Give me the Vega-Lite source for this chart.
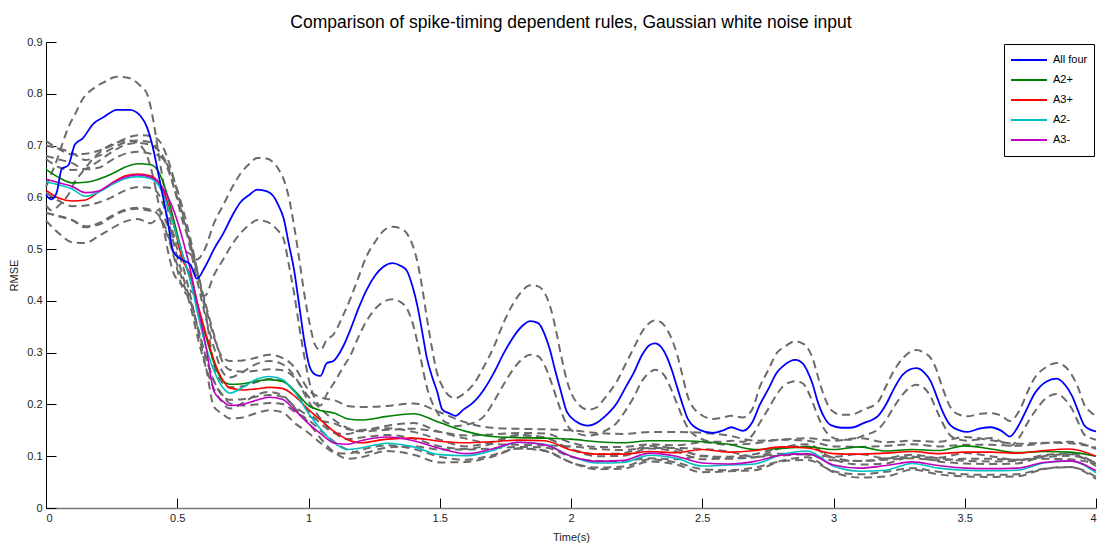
{
"$schema": "https://vega.github.io/schema/vega-lite/v6.json",
"width": 1050, "height": 466,
"autosize": {"type": "none"},
"padding": {"left": 46, "top": 42, "right": 4, "bottom": 37},
"background": "white",
"title": {"text": "Comparison of spike-timing dependent rules, Gaussian white noise input", "fontSize": 17.5, "font": "Liberation Sans", "fontWeight": "normal", "color": "black", "offset": 5},
"config": {
 "view": {"stroke": null},
 "axis": {"labelFont": "Liberation Sans", "titleFont": "Liberation Sans", "labelFontSize": 11, "titleFontSize": 11, "titleFontWeight": "normal", "labelColor": "#222", "titleColor": "#222", "grid": false, "tickColor": "black", "tickSize": -10, "domainColor": "black"}
},
"datasets": {
"blue": [
{"t":0,"a":0.605,"au":0.62,"al":0.585},
{"t":0.02,"a":0.596,"au":0.645,"al":0.575},
{"t":0.04,"a":0.608,"au":0.67,"al":0.58},
{"t":0.06,"a":0.655,"au":0.70,"al":0.59},
{"t":0.085,"a":0.662,"au":0.735,"al":0.605},
{"t":0.11,"a":0.702,"au":0.76,"al":0.63},
{"t":0.14,"a":0.714,"au":0.79,"al":0.65},
{"t":0.18,"a":0.742,"au":0.81,"al":0.675},
{"t":0.22,"a":0.755,"au":0.822,"al":0.693},
{"t":0.27,"a":0.769,"au":0.833,"al":0.706},
{"t":0.32,"a":0.769,"au":0.83,"al":0.71},
{"t":0.36,"a":0.757,"au":0.815,"al":0.70},
{"t":0.385,"a":0.735,"au":0.80,"al":0.68},
{"t":0.41,"a":0.69,"au":0.745,"al":0.635},
{"t":0.43,"a":0.64,"au":0.68,"al":0.585},
{"t":0.45,"a":0.59,"au":0.62,"al":0.535},
{"t":0.465,"a":0.55,"au":0.575,"al":0.495},
{"t":0.485,"a":0.495,"au":0.53,"al":0.455},
{"t":0.51,"a":0.482,"au":0.505,"al":0.435},
{"t":0.55,"a":0.47,"au":0.49,"al":0.42},
{"t":0.575,"a":0.443,"au":0.48,"al":0.41},
{"t":0.605,"a":0.465,"au":0.50,"al":0.41},
{"t":0.64,"a":0.50,"au":0.55,"al":0.45},
{"t":0.675,"a":0.53,"au":0.585,"al":0.48},
{"t":0.71,"a":0.565,"au":0.62,"al":0.51},
{"t":0.74,"a":0.59,"au":0.645,"al":0.53},
{"t":0.775,"a":0.605,"au":0.665,"al":0.547},
{"t":0.805,"a":0.615,"au":0.676,"al":0.556},
{"t":0.84,"a":0.612,"au":0.675,"al":0.553},
{"t":0.865,"a":0.603,"au":0.668,"al":0.545},
{"t":0.885,"a":0.585,"au":0.655,"al":0.535},
{"t":0.905,"a":0.56,"au":0.635,"al":0.52},
{"t":0.925,"a":0.51,"au":0.60,"al":0.47},
{"t":0.945,"a":0.46,"au":0.545,"al":0.415},
{"t":0.965,"a":0.39,"au":0.48,"al":0.35},
{"t":0.985,"a":0.32,"au":0.41,"al":0.29},
{"t":1.005,"a":0.272,"au":0.355,"al":0.24},
{"t":1.025,"a":0.258,"au":0.315,"al":0.21},
{"t":1.045,"a":0.255,"au":0.305,"al":0.198},
{"t":1.07,"a":0.28,"au":0.325,"al":0.22},
{"t":1.095,"a":0.284,"au":0.335,"al":0.24},
{"t":1.13,"a":0.31,"au":0.37,"al":0.27},
{"t":1.16,"a":0.345,"au":0.405,"al":0.295},
{"t":1.19,"a":0.385,"au":0.445,"al":0.33},
{"t":1.22,"a":0.42,"au":0.485,"al":0.36},
{"t":1.255,"a":0.45,"au":0.515,"al":0.385},
{"t":1.285,"a":0.466,"au":0.535,"al":0.398},
{"t":1.32,"a":0.473,"au":0.543,"al":0.403},
{"t":1.35,"a":0.468,"au":0.54,"al":0.398},
{"t":1.375,"a":0.458,"au":0.53,"al":0.385},
{"t":1.395,"a":0.43,"au":0.51,"al":0.36},
{"t":1.415,"a":0.39,"au":0.475,"al":0.32},
{"t":1.435,"a":0.335,"au":0.42,"al":0.27},
{"t":1.45,"a":0.292,"au":0.37,"al":0.235},
{"t":1.47,"a":0.255,"au":0.31,"al":0.205},
{"t":1.49,"a":0.225,"au":0.26,"al":0.185},
{"t":1.51,"a":0.19,"au":0.235,"al":0.17},
{"t":1.54,"a":0.182,"au":0.215,"al":0.162},
{"t":1.56,"a":0.178,"au":0.212,"al":0.158},
{"t":1.59,"a":0.19,"au":0.22,"al":0.16},
{"t":1.63,"a":0.205,"au":0.24,"al":0.165},
{"t":1.67,"a":0.23,"au":0.275,"al":0.178},
{"t":1.705,"a":0.26,"au":0.31,"al":0.205},
{"t":1.745,"a":0.30,"au":0.36,"al":0.24},
{"t":1.78,"a":0.33,"au":0.395,"al":0.268},
{"t":1.815,"a":0.352,"au":0.42,"al":0.288},
{"t":1.845,"a":0.361,"au":0.43,"al":0.296},
{"t":1.875,"a":0.357,"au":0.428,"al":0.293},
{"t":1.90,"a":0.335,"au":0.415,"al":0.275},
{"t":1.92,"a":0.305,"au":0.39,"al":0.25},
{"t":1.94,"a":0.265,"au":0.35,"al":0.22},
{"t":1.96,"a":0.228,"au":0.30,"al":0.19},
{"t":1.985,"a":0.185,"au":0.245,"al":0.16},
{"t":2.02,"a":0.167,"au":0.205,"al":0.145},
{"t":2.065,"a":0.159,"au":0.19,"al":0.14},
{"t":2.10,"a":0.165,"au":0.195,"al":0.142},
{"t":2.125,"a":0.175,"au":0.21,"al":0.148},
{"t":2.175,"a":0.203,"au":0.245,"al":0.165},
{"t":2.21,"a":0.235,"au":0.28,"al":0.19},
{"t":2.24,"a":0.262,"au":0.31,"al":0.215},
{"t":2.27,"a":0.295,"au":0.34,"al":0.245},
{"t":2.30,"a":0.315,"au":0.358,"al":0.262},
{"t":2.32,"a":0.318,"au":0.362,"al":0.267},
{"t":2.345,"a":0.31,"au":0.358,"al":0.262},
{"t":2.365,"a":0.292,"au":0.345,"al":0.248},
{"t":2.385,"a":0.265,"au":0.325,"al":0.225},
{"t":2.405,"a":0.232,"au":0.295,"al":0.2},
{"t":2.425,"a":0.20,"au":0.255,"al":0.175},
{"t":2.445,"a":0.172,"au":0.215,"al":0.155},
{"t":2.49,"a":0.151,"au":0.182,"al":0.135},
{"t":2.54,"a":0.145,"au":0.172,"al":0.128},
{"t":2.58,"a":0.15,"au":0.175,"al":0.128},
{"t":2.61,"a":0.156,"au":0.178,"al":0.13},
{"t":2.655,"a":0.149,"au":0.175,"al":0.128},
{"t":2.69,"a":0.165,"au":0.19,"al":0.14},
{"t":2.72,"a":0.20,"au":0.235,"al":0.165},
{"t":2.75,"a":0.228,"au":0.265,"al":0.19},
{"t":2.785,"a":0.262,"au":0.30,"al":0.22},
{"t":2.81,"a":0.275,"au":0.31,"al":0.236},
{"t":2.855,"a":0.286,"au":0.322,"al":0.245},
{"t":2.885,"a":0.278,"au":0.317,"al":0.24},
{"t":2.90,"a":0.265,"au":0.31,"al":0.228},
{"t":2.92,"a":0.24,"au":0.29,"al":0.205},
{"t":2.94,"a":0.205,"au":0.255,"al":0.178},
{"t":2.965,"a":0.175,"au":0.215,"al":0.152},
{"t":2.99,"a":0.16,"au":0.19,"al":0.138},
{"t":3.03,"a":0.155,"au":0.18,"al":0.132},
{"t":3.065,"a":0.155,"au":0.18,"al":0.132},
{"t":3.115,"a":0.164,"au":0.19,"al":0.14},
{"t":3.17,"a":0.178,"au":0.205,"al":0.152},
{"t":3.20,"a":0.20,"au":0.235,"al":0.17},
{"t":3.23,"a":0.23,"au":0.265,"al":0.195},
{"t":3.265,"a":0.258,"au":0.29,"al":0.22},
{"t":3.315,"a":0.27,"au":0.305,"al":0.238},
{"t":3.345,"a":0.262,"au":0.30,"al":0.232},
{"t":3.37,"a":0.245,"au":0.29,"al":0.215},
{"t":3.39,"a":0.22,"au":0.27,"al":0.192},
{"t":3.41,"a":0.193,"au":0.24,"al":0.17},
{"t":3.445,"a":0.16,"au":0.195,"al":0.14},
{"t":3.48,"a":0.15,"au":0.18,"al":0.132},
{"t":3.51,"a":0.147,"au":0.177,"al":0.13},
{"t":3.56,"a":0.154,"au":0.182,"al":0.133},
{"t":3.60,"a":0.156,"au":0.183,"al":0.135},
{"t":3.64,"a":0.149,"au":0.178,"al":0.128},
{"t":3.672,"a":0.138,"au":0.168,"al":0.12},
{"t":3.71,"a":0.164,"au":0.19,"al":0.138},
{"t":3.74,"a":0.195,"au":0.225,"al":0.165},
{"t":3.765,"a":0.22,"au":0.25,"al":0.185},
{"t":3.81,"a":0.244,"au":0.272,"al":0.212},
{"t":3.85,"a":0.25,"au":0.28,"al":0.22},
{"t":3.885,"a":0.236,"au":0.272,"al":0.208},
{"t":3.91,"a":0.215,"au":0.255,"al":0.19},
{"t":3.93,"a":0.19,"au":0.235,"al":0.168},
{"t":3.955,"a":0.16,"au":0.20,"al":0.142},
{"t":3.98,"a":0.151,"au":0.185,"al":0.135},
{"t":4.0,"a":0.148,"au":0.178,"al":0.132}
],
"oth": [
{"t":0,"g":0.654,"gu":0.709,"gl":0.609,"r":0.614,"ru":0.674,"rl":0.555,"c":0.63,"cu":0.70,"cl":0.57,"m":0.635,"mu":0.68,"ml":0.57},
{"t":0.05,"g":0.638,"gu":0.693,"gl":0.593,"r":0.598,"ru":0.658,"rl":0.53,"c":0.624,"cu":0.694,"cl":0.564,"m":0.628,"mu":0.673,"ml":0.563},
{"t":0.1,"g":0.628,"gu":0.683,"gl":0.583,"r":0.593,"ru":0.653,"rl":0.513,"c":0.616,"cu":0.686,"cl":0.556,"m":0.621,"mu":0.666,"ml":0.556},
{"t":0.15,"g":0.629,"gu":0.684,"gl":0.584,"r":0.595,"ru":0.655,"rl":0.512,"c":0.602,"cu":0.672,"cl":0.542,"m":0.609,"mu":0.654,"ml":0.544},
{"t":0.2,"g":0.635,"gu":0.69,"gl":0.59,"r":0.61,"ru":0.67,"rl":0.525,"c":0.61,"cu":0.68,"cl":0.55,"m":0.612,"mu":0.657,"ml":0.547},
{"t":0.25,"g":0.645,"gu":0.70,"gl":0.60,"r":0.627,"ru":0.687,"rl":0.54,"c":0.624,"cu":0.694,"cl":0.564,"m":0.627,"mu":0.672,"ml":0.562},
{"t":0.3,"g":0.658,"gu":0.713,"gl":0.613,"r":0.641,"ru":0.701,"rl":0.553,"c":0.636,"cu":0.706,"cl":0.576,"m":0.639,"mu":0.684,"ml":0.574},
{"t":0.35,"g":0.665,"gu":0.72,"gl":0.62,"r":0.645,"ru":0.705,"rl":0.558,"c":0.64,"cu":0.71,"cl":0.58,"m":0.643,"mu":0.688,"ml":0.578},
{"t":0.4,"g":0.663,"gu":0.718,"gl":0.618,"r":0.641,"ru":0.701,"rl":0.55,"c":0.636,"cu":0.706,"cl":0.576,"m":0.639,"mu":0.684,"ml":0.574},
{"t":0.43,"g":0.648,"gu":0.71,"gl":0.605,"r":0.628,"ru":0.69,"rl":0.56,"c":0.622,"cu":0.69,"cl":0.565,"m":0.628,"mu":0.68,"ml":0.575},
{"t":0.46,"g":0.608,"gu":0.68,"gl":0.565,"r":0.595,"ru":0.665,"rl":0.53,"c":0.588,"cu":0.66,"cl":0.535,"m":0.605,"mu":0.665,"ml":0.55},
{"t":0.49,"g":0.55,"gu":0.63,"gl":0.505,"r":0.54,"ru":0.615,"rl":0.48,"c":0.54,"cu":0.615,"cl":0.485,"m":0.57,"mu":0.63,"ml":0.515},
{"t":0.52,"g":0.49,"gu":0.57,"gl":0.45,"r":0.48,"ru":0.555,"rl":0.425,"c":0.49,"cu":0.565,"cl":0.44,"m":0.52,"mu":0.58,"ml":0.47},
{"t":0.55,"g":0.44,"gu":0.51,"gl":0.40,"r":0.45,"ru":0.51,"rl":0.40,"c":0.44,"cu":0.50,"cl":0.39,"m":0.46,"mu":0.52,"ml":0.41},
{"t":0.58,"g":0.385,"gu":0.445,"gl":0.345,"r":0.39,"ru":0.45,"rl":0.345,"c":0.37,"cu":0.43,"cl":0.325,"m":0.385,"mu":0.45,"ml":0.34},
{"t":0.61,"g":0.33,"gu":0.385,"gl":0.29,"r":0.335,"ru":0.39,"rl":0.29,"c":0.31,"cu":0.365,"cl":0.27,"m":0.31,"mu":0.37,"ml":0.27},
{"t":0.64,"g":0.28,"gu":0.33,"gl":0.245,"r":0.285,"ru":0.335,"rl":0.245,"c":0.265,"cu":0.31,"cl":0.23,"m":0.225,"mu":0.275,"ml":0.195},
{"t":0.67,"g":0.248,"gu":0.293,"gl":0.218,"r":0.25,"ru":0.285,"rl":0.22,"c":0.235,"cu":0.265,"cl":0.205,"m":0.208,"mu":0.243,"ml":0.183},
{"t":0.7,"g":0.239,"gu":0.284,"gl":0.209,"r":0.232,"ru":0.267,"rl":0.202,"c":0.222,"cu":0.252,"cl":0.192,"m":0.198,"mu":0.233,"ml":0.173},
{"t":0.75,"g":0.24,"gu":0.285,"gl":0.21,"r":0.228,"ru":0.263,"rl":0.198,"c":0.233,"cu":0.263,"cl":0.203,"m":0.20,"mu":0.235,"ml":0.175},
{"t":0.8,"g":0.245,"gu":0.29,"gl":0.215,"r":0.23,"ru":0.265,"rl":0.20,"c":0.248,"cu":0.278,"cl":0.218,"m":0.208,"mu":0.243,"ml":0.183},
{"t":0.85,"g":0.248,"gu":0.296,"gl":0.218,"r":0.233,"ru":0.268,"rl":0.203,"c":0.254,"cu":0.284,"cl":0.224,"m":0.214,"mu":0.249,"ml":0.189},
{"t":0.9,"g":0.245,"gu":0.29,"gl":0.215,"r":0.231,"ru":0.266,"rl":0.201,"c":0.248,"cu":0.278,"cl":0.218,"m":0.21,"mu":0.245,"ml":0.185},
{"t":0.95,"g":0.225,"gu":0.27,"gl":0.195,"r":0.215,"ru":0.25,"rl":0.185,"c":0.222,"cu":0.252,"cl":0.192,"m":0.188,"mu":0.223,"ml":0.163},
{"t":1.0,"g":0.198,"gu":0.228,"gl":0.178,"r":0.19,"ru":0.215,"rl":0.17,"c":0.183,"cu":0.206,"cl":0.165,"m":0.163,"mu":0.186,"ml":0.145},
{"t":1.05,"g":0.188,"gu":0.213,"gl":0.168,"r":0.168,"ru":0.19,"rl":0.148,"c":0.15,"cu":0.17,"cl":0.132,"m":0.142,"mu":0.162,"ml":0.124},
{"t":1.1,"g":0.183,"gu":0.208,"gl":0.163,"r":0.147,"ru":0.169,"rl":0.127,"c":0.125,"cu":0.145,"cl":0.107,"m":0.125,"mu":0.145,"ml":0.107},
{"t":1.15,"g":0.172,"gu":0.197,"gl":0.152,"r":0.132,"ru":0.154,"rl":0.112,"c":0.113,"cu":0.133,"cl":0.095,"m":0.123,"mu":0.143,"ml":0.105},
{"t":1.2,"g":0.17,"gu":0.195,"gl":0.15,"r":0.126,"ru":0.148,"rl":0.106,"c":0.116,"cu":0.136,"cl":0.098,"m":0.13,"mu":0.15,"ml":0.112},
{"t":1.3,"g":0.177,"gu":0.197,"gl":0.159,"r":0.133,"ru":0.151,"rl":0.117,"c":0.125,"cu":0.141,"cl":0.11,"m":0.137,"mu":0.154,"ml":0.121},
{"t":1.4,"g":0.182,"gu":0.202,"gl":0.164,"r":0.135,"ru":0.153,"rl":0.119,"c":0.118,"cu":0.134,"cl":0.103,"m":0.13,"mu":0.147,"ml":0.114},
{"t":1.5,"g":0.165,"gu":0.185,"gl":0.147,"r":0.129,"ru":0.147,"rl":0.113,"c":0.103,"cu":0.119,"cl":0.088,"m":0.115,"mu":0.132,"ml":0.099},
{"t":1.6,"g":0.148,"gu":0.165,"gl":0.134,"r":0.126,"ru":0.14,"rl":0.113,"c":0.101,"cu":0.114,"cl":0.089,"m":0.105,"mu":0.119,"ml":0.093},
{"t":1.7,"g":0.138,"gu":0.155,"gl":0.124,"r":0.128,"ru":0.142,"rl":0.115,"c":0.111,"cu":0.124,"cl":0.099,"m":0.114,"mu":0.128,"ml":0.102},
{"t":1.8,"g":0.136,"gu":0.153,"gl":0.122,"r":0.131,"ru":0.145,"rl":0.118,"c":0.127,"cu":0.14,"cl":0.115,"m":0.127,"mu":0.141,"ml":0.115},
{"t":1.9,"g":0.135,"gu":0.152,"gl":0.121,"r":0.13,"ru":0.144,"rl":0.117,"c":0.123,"cu":0.136,"cl":0.111,"m":0.122,"mu":0.136,"ml":0.11},
{"t":2.0,"g":0.133,"gu":0.15,"gl":0.119,"r":0.112,"ru":0.126,"rl":0.099,"c":0.10,"cu":0.113,"cl":0.088,"m":0.10,"mu":0.114,"ml":0.088},
{"t":2.1,"g":0.128,"gu":0.145,"gl":0.114,"r":0.104,"ru":0.118,"rl":0.091,"c":0.087,"cu":0.10,"cl":0.075,"m":0.09,"mu":0.104,"ml":0.078},
{"t":2.2,"g":0.126,"gu":0.143,"gl":0.112,"r":0.104,"ru":0.118,"rl":0.091,"c":0.088,"cu":0.101,"cl":0.076,"m":0.092,"mu":0.106,"ml":0.08},
{"t":2.3,"g":0.13,"gu":0.147,"gl":0.116,"r":0.109,"ru":0.123,"rl":0.096,"c":0.102,"cu":0.115,"cl":0.09,"m":0.106,"mu":0.12,"ml":0.094},
{"t":2.4,"g":0.13,"gu":0.147,"gl":0.116,"r":0.107,"ru":0.121,"rl":0.094,"c":0.096,"cu":0.109,"cl":0.084,"m":0.10,"mu":0.114,"ml":0.088},
{"t":2.5,"g":0.128,"gu":0.145,"gl":0.114,"r":0.113,"ru":0.127,"rl":0.10,"c":0.081,"cu":0.094,"cl":0.069,"m":0.087,"mu":0.101,"ml":0.075},
{"t":2.6,"g":0.123,"gu":0.14,"gl":0.109,"r":0.108,"ru":0.122,"rl":0.095,"c":0.083,"cu":0.096,"cl":0.071,"m":0.085,"mu":0.099,"ml":0.073},
{"t":2.7,"g":0.113,"gu":0.13,"gl":0.099,"r":0.111,"ru":0.125,"rl":0.098,"c":0.085,"cu":0.098,"cl":0.073,"m":0.09,"mu":0.104,"ml":0.078},
{"t":2.8,"g":0.115,"gu":0.132,"gl":0.101,"r":0.118,"ru":0.132,"rl":0.105,"c":0.103,"cu":0.116,"cl":0.091,"m":0.102,"mu":0.116,"ml":0.09},
{"t":2.9,"g":0.118,"gu":0.135,"gl":0.104,"r":0.116,"ru":0.13,"rl":0.103,"c":0.11,"cu":0.123,"cl":0.098,"m":0.105,"mu":0.119,"ml":0.093},
{"t":3.0,"g":0.113,"gu":0.13,"gl":0.099,"r":0.105,"ru":0.119,"rl":0.092,"c":0.081,"cu":0.094,"cl":0.069,"m":0.083,"mu":0.097,"ml":0.071},
{"t":3.1,"g":0.118,"gu":0.135,"gl":0.104,"r":0.104,"ru":0.118,"rl":0.091,"c":0.071,"cu":0.084,"cl":0.059,"m":0.077,"mu":0.091,"ml":0.065},
{"t":3.2,"g":0.11,"gu":0.127,"gl":0.096,"r":0.106,"ru":0.12,"rl":0.093,"c":0.073,"cu":0.086,"cl":0.061,"m":0.082,"mu":0.096,"ml":0.07},
{"t":3.3,"g":0.113,"gu":0.13,"gl":0.099,"r":0.109,"ru":0.123,"rl":0.096,"c":0.086,"cu":0.099,"cl":0.074,"m":0.089,"mu":0.103,"ml":0.077},
{"t":3.4,"g":0.111,"gu":0.128,"gl":0.097,"r":0.105,"ru":0.119,"rl":0.092,"c":0.077,"cu":0.09,"cl":0.065,"m":0.082,"mu":0.096,"ml":0.07},
{"t":3.5,"g":0.12,"gu":0.137,"gl":0.106,"r":0.108,"ru":0.122,"rl":0.095,"c":0.073,"cu":0.086,"cl":0.061,"m":0.077,"mu":0.091,"ml":0.065},
{"t":3.6,"g":0.114,"gu":0.131,"gl":0.10,"r":0.108,"ru":0.122,"rl":0.095,"c":0.072,"cu":0.085,"cl":0.06,"m":0.076,"mu":0.09,"ml":0.064},
{"t":3.7,"g":0.107,"gu":0.124,"gl":0.093,"r":0.106,"ru":0.12,"rl":0.093,"c":0.073,"cu":0.086,"cl":0.061,"m":0.077,"mu":0.091,"ml":0.065},
{"t":3.8,"g":0.109,"gu":0.126,"gl":0.095,"r":0.111,"ru":0.125,"rl":0.098,"c":0.087,"cu":0.10,"cl":0.075,"m":0.088,"mu":0.102,"ml":0.076},
{"t":3.9,"g":0.108,"gu":0.125,"gl":0.094,"r":0.114,"ru":0.128,"rl":0.101,"c":0.091,"cu":0.104,"cl":0.079,"m":0.091,"mu":0.105,"ml":0.079},
{"t":4.0,"g":0.10,"gu":0.117,"gl":0.086,"r":0.10,"ru":0.114,"rl":0.087,"c":0.068,"cu":0.081,"cl":0.056,"m":0.072,"mu":0.086,"ml":0.06}
]
},
"layer": [
{
 "data": {"name": "blue"},
 "transform": [{"fold": ["au", "al"], "as": ["k", "v"]}],
 "mark": {"type": "line", "color": "#6b6b6b", "strokeWidth": 2, "strokeDash": [8, 5], "interpolate": "monotone"},
 "encoding": {
  "x": {"field": "t", "type": "quantitative", "scale": {"domain": [0, 4], "nice": false}, "axis": {"values": [0,0.5,1,1.5,2,2.5,3,3.5,4], "format": "~g", "title": "Time(s)", "labelPadding": 14, "titlePadding": 8, "domainColor": "#777777", "domainWidth": 1.5}},
  "y": {"field": "v", "type": "quantitative", "scale": {"domain": [0, 0.9], "nice": false}, "axis": {"values": [0,0.1,0.2,0.3,0.4,0.5,0.6,0.7,0.8,0.9], "format": "~g", "title": "RMSE", "labelPadding": 14, "titlePadding": 7}},
  "detail": {"field": "k"}
 }
},
{
 "data": {"name": "oth"},
 "transform": [{"fold": ["gu", "gl", "ru", "rl", "cu", "cl", "mu", "ml"], "as": ["k", "v"]}],
 "mark": {"type": "line", "color": "#6b6b6b", "strokeWidth": 2, "strokeDash": [8, 5], "interpolate": "monotone"},
 "encoding": {
  "x": {"field": "t", "type": "quantitative"},
  "y": {"field": "v", "type": "quantitative"},
  "detail": {"field": "k"}
 }
},
{
 "data": {"name": "oth"},
 "transform": [{"fold": ["g", "r", "c", "m"], "as": ["k", "v"]}],
 "mark": {"type": "line", "strokeWidth": 1.6, "interpolate": "monotone"},
 "encoding": {
  "x": {"field": "t", "type": "quantitative"},
  "y": {"field": "v", "type": "quantitative"},
  "color": {"field": "k", "type": "nominal", "scale": {"domain": ["a", "g", "r", "c", "m"], "range": ["#0000ff", "#008000", "#ff0000", "#00bfbf", "#bf00bf"]},
   "legend": {"title": null, "orient": "top-right", "offset": 2, "strokeColor": "black", "fillColor": "white", "padding": 6, "symbolType": "stroke", "symbolSize": 1296, "symbolStrokeWidth": 2, "clipHeight": 20, "labelFontSize": 11, "labelFont": "Liberation Sans", "labelColor": "black", "labelOffset": 5, "rowPadding": 0, "cornerRadius": 0,
    "labelExpr": "datum.value == 'a' ? 'All four' : datum.value == 'g' ? 'A2+' : datum.value == 'r' ? 'A3+' : datum.value == 'c' ? 'A2-' : 'A3-'"}}
 }
},
{
 "data": {"name": "blue"},
 "transform": [{"fold": ["a"], "as": ["k", "v"]}],
 "mark": {"type": "line", "strokeWidth": 1.8, "interpolate": "monotone"},
 "encoding": {
  "x": {"field": "t", "type": "quantitative"},
  "y": {"field": "v", "type": "quantitative"},
  "color": {"field": "k", "type": "nominal"}
 }
}
]
}
